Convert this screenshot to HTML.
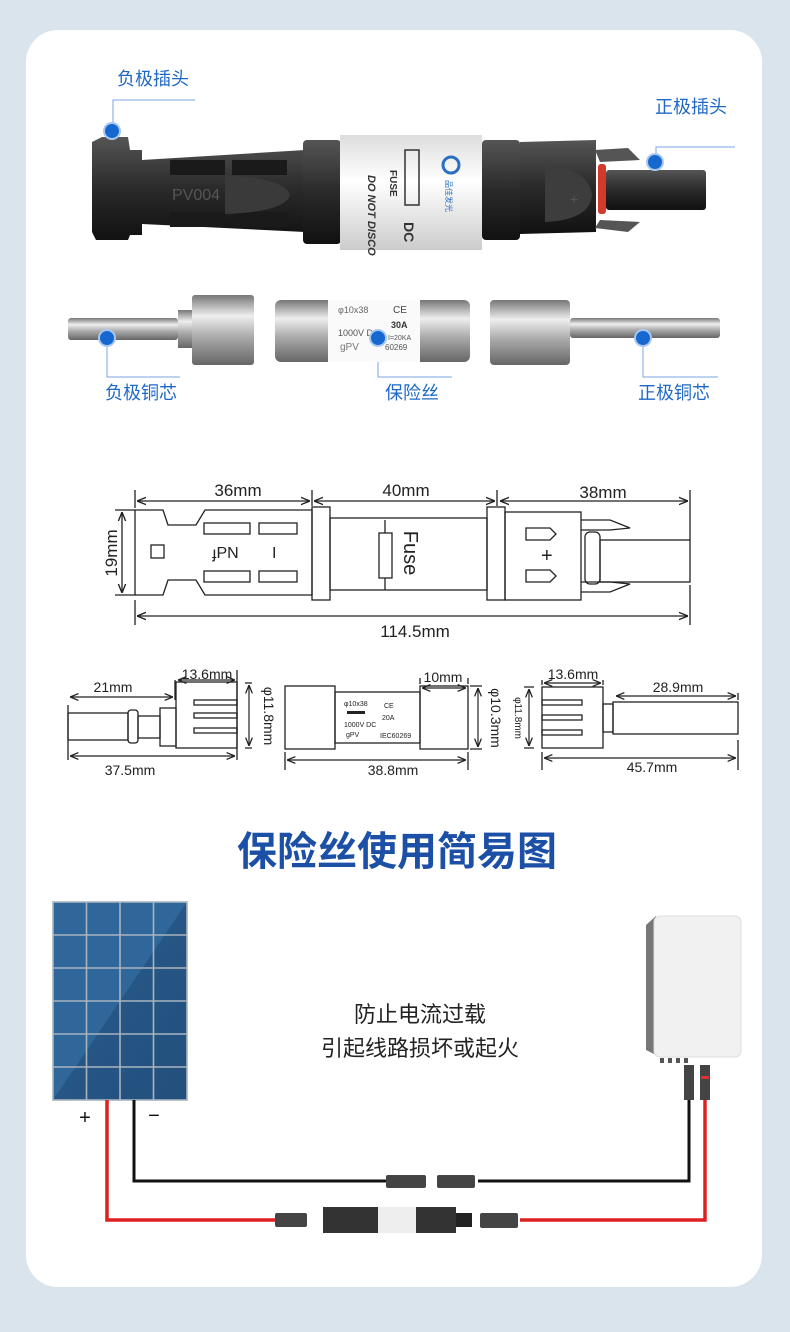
<!DOCTYPE html>
<html><head><meta charset="utf-8"><style>
html,body{margin:0;padding:0;background:#d9e4ec;}
body{width:790px;height:1332px;position:relative;overflow:hidden;}
.card{position:absolute;left:26px;top:30px;width:736px;height:1257px;background:#fff;border-radius:32px;}
svg{position:absolute;left:0;top:0;}
text{font-family:"Liberation Sans","Noto Sans CJK SC",sans-serif;}
</style></head><body>
<div class="card"></div>
<svg width="790" height="1332" viewBox="0 0 790 1332" xmlns="http://www.w3.org/2000/svg">
<defs>
<linearGradient id="blk" x1="0" y1="0" x2="0" y2="1"><stop offset="0" stop-color="#555"/><stop offset="0.5" stop-color="#2a2a2a"/><stop offset="1" stop-color="#111"/></linearGradient>
<linearGradient id="slv" x1="0" y1="0" x2="0" y2="1"><stop offset="0" stop-color="#777"/><stop offset="0.3" stop-color="#eee"/><stop offset="0.6" stop-color="#aaa"/><stop offset="1" stop-color="#666"/></linearGradient>
<linearGradient id="wht" x1="0" y1="0" x2="0" y2="1"><stop offset="0" stop-color="#ddd"/><stop offset="0.4" stop-color="#fff"/><stop offset="1" stop-color="#ccc"/></linearGradient>
<linearGradient id="sol" x1="0" y1="0" x2="1" y2="1"><stop offset="0" stop-color="#2f679a"/><stop offset="0.5" stop-color="#2f679a"/><stop offset="0.5" stop-color="#265685"/><stop offset="1" stop-color="#234f7c"/></linearGradient>
<marker id="ar" viewBox="0 0 10 10" refX="10" refY="5" markerWidth="7" markerHeight="7" orient="auto-start-reverse"><path d="M0 1 L10 5 L0 9" fill="none" stroke="#222" stroke-width="1.5"/></marker>
</defs>

<!-- top connector photo -->
<path d="M92 142 L102 137 L128 137 L130 150 L142 150 L142 160 L305 150 L305 232 L142 224 L142 235 L130 235 L128 240 L96 240 L92 232 Z" fill="url(#blk)"/>
<rect x="170" y="160" width="55" height="15" fill="#1a1a1a"/><rect x="232" y="160" width="55" height="15" fill="#1a1a1a"/>
<rect x="170" y="212" width="55" height="15" fill="#1a1a1a"/><rect x="232" y="212" width="55" height="15" fill="#1a1a1a"/>
<path d="M225 175 Q285 178 290 195 Q285 212 225 214 Z" fill="#3a3a3a"/>
<text x="172" y="200" font-size="16" fill="#555">PV004</text>
<rect x="303" y="140" width="38" height="104" rx="4" fill="url(#blk)"/>
<rect x="340" y="135" width="142" height="115" fill="url(#wht)"/>
<rect x="405" y="150" width="14" height="55" fill="none" stroke="#333" stroke-width="1.5"/>
<text x="390" y="170" font-size="10" font-weight="bold" fill="#333" transform="rotate(90 390 170)">FUSE</text>
<text x="368" y="175" font-size="11" font-weight="bold" font-style="italic" fill="#333" transform="rotate(90 368 175)">DO NOT DISCO</text>
<text x="404" y="222" font-size="14" font-weight="bold" fill="#333" transform="rotate(90 404 222)">DC</text>
<circle cx="451" cy="165" r="8" fill="none" stroke="#2a6fc0" stroke-width="3"/>
<text x="446" y="180" font-size="8" fill="#2a6fc0" transform="rotate(90 446 180)">品佳发光</text>
<rect x="482" y="140" width="38" height="100" rx="4" fill="url(#blk)"/>
<path d="M520 142 L596 140 L596 232 L520 234 Z" fill="url(#blk)"/>
<path d="M545 165 Q590 170 592 195 Q590 220 545 222 Z" fill="#3d3d3d"/>
<text x="570" y="204" font-size="14" fill="#555">+</text>
<path d="M595 150 L628 148 L640 160 L600 162 Z" fill="#555"/>
<path d="M595 228 L628 232 L640 222 L600 220 Z" fill="#555"/>
<rect x="598" y="164" width="8" height="50" rx="3" fill="#d43a2a"/>
<rect x="606" y="170" width="100" height="40" rx="3" fill="url(#blk)"/>

<!-- labels top -->
<g fill="#2068c6" font-size="18">
<text x="117" y="85">负极插头</text>
<text x="655" y="113">正极插头</text>
<text x="105" y="399">负极铜芯</text>
<text x="385" y="399">保险丝</text>
<text x="638" y="399">正极铜芯</text>
</g>
<g stroke="#7aa6dc" stroke-width="1" fill="none">
<path d="M195 100 H113 V124"/>
<path d="M735 147 H656 V155"/>
<path d="M107 346 V377 H180"/>
<path d="M378 346 V377 H452"/>
<path d="M643 346 V377 H718"/>
</g>
<!-- copper cores row -->
<rect x="68" y="318" width="110" height="22" rx="3" fill="url(#slv)"/>
<rect x="178" y="310" width="14" height="38" fill="url(#slv)"/>
<rect x="192" y="295" width="62" height="70" rx="3" fill="url(#slv)"/>
<rect x="275" y="300" width="195" height="62" rx="6" fill="url(#slv)"/>
<rect x="328" y="300" width="92" height="62" fill="#fafafa"/>
<text x="338" y="313" font-size="9" fill="#666">φ10x38</text><text x="393" y="313" font-size="10" fill="#444">CE</text>
<text x="338" y="336" font-size="9" fill="#555">1000V DC</text><text x="391" y="328" font-size="9" font-weight="bold" fill="#333">30A</text>
<text x="340" y="350" font-size="10" fill="#777">gPV</text><text x="388" y="340" font-size="7" fill="#555">I=20KA</text><text x="385" y="350" font-size="8" fill="#555">60269</text>
<rect x="490" y="300" width="80" height="65" rx="4" fill="url(#slv)"/>
<rect x="570" y="318" width="150" height="20" rx="3" fill="url(#slv)"/>
<g fill="#1668d0" stroke="#a9c8ee" stroke-width="2">
<circle cx="112" cy="131" r="8"/><circle cx="655" cy="162" r="8"/>
<circle cx="107" cy="338" r="8"/><circle cx="378" cy="338" r="8"/><circle cx="643" cy="338" r="8"/>
</g>

<!-- dimension drawing -->
<g fill="none" stroke="#222" stroke-width="1.3">
<path d="M135 510 H163 L168 525 L196 525 L205 510 H312 V595 H205 L196 580 L168 580 L163 595 H135 Z"/>
<rect x="204" y="523" width="46" height="11"/><rect x="259" y="523" width="38" height="11"/>
<rect x="204" y="571" width="46" height="11"/><rect x="259" y="571" width="38" height="11"/>
<rect x="151" y="545" width="13" height="13"/>
<rect x="312" y="507" width="18" height="93"/><rect x="330" y="518" width="157" height="72"/><rect x="487" y="507" width="18" height="93"/>
<rect x="379" y="533" width="13" height="45"/><path d="M385 520 V533 M385 578 V590"/>
<rect x="505" y="512" width="76" height="88"/>
<rect x="585" y="532" width="15" height="52" rx="5"/>
<rect x="600" y="540" width="90" height="42"/>
<path d="M581 520 H610 L630 528 L610 530 H581 M581 592 H610 L630 584 L610 582 H581"/>
<path d="M526 528 H550 L556 534 L550 540 H526 Z M526 570 H550 L556 576 L550 582 H526 Z"/>
<path d="M135 490 V508 M312 490 V506 M497 490 V506 M690 490 V540 M135 600 V625 M690 585 V625 M115 510 H135 M115 595 H135"/>
</g>
<g fill="none" stroke="#222" stroke-width="1.3" marker-start="url(#ar)" marker-end="url(#ar)">
<path d="M137 501 H310"/><path d="M314 501 H495"/><path d="M500 501 H688"/><path d="M137 616 H688"/><path d="M122 512 V593"/>
</g>
<g font-size="17" fill="#222" text-anchor="middle">
<text x="238" y="496">36mm</text><text x="406" y="496">40mm</text><text x="603" y="498">38mm</text>
<text x="415" y="637">114.5mm</text>
<text x="117" y="553" transform="rotate(-90 117 553)">19mm</text>
</g>
<text x="400" y="553" font-size="20" fill="#222" text-anchor="middle" transform="rotate(90 400 553)" dy="-4">Fuse</text>
<text x="212" y="558" font-size="16" fill="#222">ɟPN</text><text x="272" y="558" font-size="16" fill="#222">I</text>
<text x="541" y="562" font-size="20" fill="#222">+</text>

<!-- small drawings -->
<g fill="none" stroke="#222" stroke-width="1.3">
<rect x="68" y="713" width="60" height="27"/><rect x="128" y="710" width="10" height="33" rx="3"/><rect x="138" y="716" width="22" height="22"/>
<rect x="160" y="708" width="16" height="38"/><rect x="176" y="682" width="61" height="66"/>
<rect x="194" y="700" width="43" height="5"/><rect x="194" y="713" width="43" height="5"/><rect x="194" y="728" width="43" height="5"/>
<path d="M68 705 V760 M175 680 V700 M237 670 V760 M245 683 H252 M245 748 H252"/>
<rect x="285" y="686" width="50" height="63"/><rect x="335" y="692" width="85" height="51"/><rect x="420" y="686" width="48" height="63"/>
<path d="M285 752 V770 M468 752 V770 M420 678 V684 M468 678 V684 M470 686 H482 M470 749 H482"/>
<rect x="542" y="687" width="61" height="61"/><rect x="603" y="704" width="10" height="28"/><rect x="613" y="702" width="125" height="32"/>
<rect x="542" y="700" width="40" height="5"/><rect x="542" y="715" width="40" height="5"/><rect x="542" y="730" width="40" height="5"/>
<path d="M542 680 V685 M603 680 V685 M738 693 V700 M542 752 V770 M738 740 V770 M524 687 H534 M524 748 H534"/>
</g>
<g fill="none" stroke="#222" stroke-width="1.2" marker-start="url(#ar)" marker-end="url(#ar)">
<path d="M70 697 H173"/><path d="M178 680 H235"/><path d="M70 756 H235"/><path d="M249 685 V746"/>
<path d="M287 760 H466"/><path d="M422 688 H466"/><path d="M478 688 V747"/>
<path d="M544 683 H601"/><path d="M616 696 H736"/><path d="M544 758 H736"/><path d="M529 689 V746"/>
</g>
<g font-size="14" fill="#222" text-anchor="middle">
<text x="113" y="692">21mm</text><text x="207" y="679">13.6mm</text><text x="130" y="775">37.5mm</text>
<text x="443" y="682">10mm</text><text x="393" y="775">38.8mm</text>
<text x="573" y="679">13.6mm</text><text x="678" y="692">28.9mm</text><text x="652" y="772">45.7mm</text>
<text x="264" y="716" transform="rotate(90 264 716)">φ11.8mm</text>
<text x="491" y="718" transform="rotate(90 491 718)">φ10.3mm</text>
<text x="515" y="718" font-size="10" transform="rotate(90 515 718)">φ11.8mm</text>
</g>
<g font-size="7" fill="#222"><text x="344" y="706">φ10x38</text><text x="384" y="708">CE</text><text x="344" y="727">1000V DC</text><text x="382" y="720">20A</text><text x="346" y="737">gPV</text><text x="380" y="738">IEC60269</text></g>
<rect x="347" y="711" width="18" height="3" fill="#222"/>

<!-- title -->
<text x="397" y="865" font-size="40" font-weight="bold" fill="#1c4fa6" text-anchor="middle" font-family="'Noto Sans CJK SC',sans-serif">保险丝使用简易图</text>

<!-- solar panel -->
<rect x="53" y="902" width="134" height="198" fill="url(#sol)"/>
<g stroke="#a9b4c0" stroke-width="1.6" fill="none">
<rect x="53" y="902" width="134" height="198"/>
<path d="M86.5 902 V1100 M120 902 V1100 M153.5 902 V1100 M53 935 H187 M53 968 H187 M53 1001 H187 M53 1034 H187 M53 1067 H187"/>
</g>
<text x="85" y="1124" font-size="20" fill="#111" text-anchor="middle">+</text>
<text x="154" y="1122" font-size="20" fill="#111" text-anchor="middle">−</text>

<!-- inverter -->
<path d="M646 925 L656 916 V1055 L646 1050 Z" fill="#777"/>
<rect x="654" y="916" width="87" height="141" rx="6" fill="#f1f1f1" stroke="#ddd"/>
<rect x="660" y="1058" width="4" height="5" fill="#555"/><rect x="668" y="1058" width="4" height="5" fill="#555"/><rect x="676" y="1058" width="4" height="5" fill="#555"/><rect x="684" y="1058" width="4" height="5" fill="#555"/>

<text x="420" y="1022" font-size="22" fill="#222" text-anchor="middle">防止电流过载</text>
<text x="420" y="1056" font-size="22" fill="#222" text-anchor="middle">引起线路损坏或起火</text>

<!-- wires -->
<path d="M134 1100 V1181 H388 M478 1181 H689 V1100" fill="none" stroke="#111" stroke-width="3"/>
<path d="M107 1100 V1220 H280 M520 1220 H705 V1100" fill="none" stroke="#dd2020" stroke-width="3.5"/>
<rect x="684" y="1065" width="10" height="35" fill="#444"/><rect x="700" y="1065" width="10" height="35" fill="#444"/><rect x="701" y="1076" width="8" height="3" fill="#d33"/>
<rect x="386" y="1175" width="40" height="13" rx="2" fill="#444"/><rect x="437" y="1175" width="38" height="13" rx="2" fill="#444"/>
<rect x="275" y="1213" width="32" height="14" rx="2" fill="#444"/>
<rect x="323" y="1207" width="55" height="26" fill="#333"/><rect x="378" y="1207" width="38" height="26" fill="#eee"/><rect x="416" y="1207" width="40" height="26" fill="#333"/><rect x="456" y="1213" width="16" height="14" fill="#222"/>
<rect x="480" y="1213" width="38" height="15" rx="2" fill="#444"/>
</svg>
</body></html>
